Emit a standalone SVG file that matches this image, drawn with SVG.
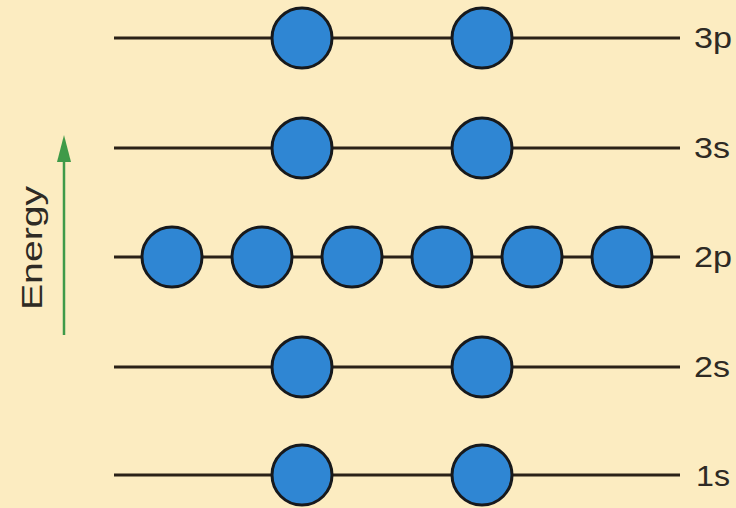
<svg xmlns="http://www.w3.org/2000/svg" width="736" height="508" viewBox="0 0 736 508">
  <defs>
    <style>
      .lvl { stroke: #2a2117; stroke-width: 3.2; fill: none; }
      .e { fill: #2f86d3; stroke: #17191c; stroke-width: 3; }
      .lbl { font-family: "Liberation Sans", Arial, sans-serif; font-size: 29px; fill: #2e2a24; }
      .axis { stroke: #3f9a48; stroke-width: 2.5; fill: none; }
    </style>
  </defs>
  <rect width="736" height="508" fill="#fcecc1"/>
  <g id="connectors">
    <line class="lvl" x1="114" y1="38" x2="680" y2="38"/>
    <line class="lvl" x1="114" y1="148" x2="680" y2="148"/>
    <line class="lvl" x1="114" y1="257" x2="680" y2="257"/>
    <line class="lvl" x1="114" y1="367" x2="680" y2="367"/>
    <line class="lvl" x1="114" y1="475" x2="680" y2="475"/>
    <path d="M64,335 L64,150" class="axis"/>
    <path d="M64,135 L57,162 L71,162 z" fill="#3f9a48"/>
  </g>
  <g id="energy-axis">
    <text class="lbl" transform="translate(42,248) rotate(-90)" text-anchor="middle" font-size="32" textLength="124" lengthAdjust="spacingAndGlyphs">Energy</text>
  </g>
  <g id="level-3p">
    <circle class="e" cx="302" cy="38" r="30"/>
    <circle class="e" cx="482" cy="38" r="30"/>
    <text class="lbl" x="694" y="48" textLength="38" lengthAdjust="spacingAndGlyphs">3p</text>
  </g>
  <g id="level-3s">
    <circle class="e" cx="302" cy="148" r="30"/>
    <circle class="e" cx="482" cy="148" r="30"/>
    <text class="lbl" x="694" y="158" textLength="36" lengthAdjust="spacingAndGlyphs">3s</text>
  </g>
  <g id="level-2p">
    <circle class="e" cx="172" cy="257" r="30"/>
    <circle class="e" cx="262" cy="257" r="30"/>
    <circle class="e" cx="352" cy="257" r="30"/>
    <circle class="e" cx="442" cy="257" r="30"/>
    <circle class="e" cx="532" cy="257" r="30"/>
    <circle class="e" cx="622" cy="257" r="30"/>
    <text class="lbl" x="694" y="267" textLength="38" lengthAdjust="spacingAndGlyphs">2p</text>
  </g>
  <g id="level-2s">
    <circle class="e" cx="302" cy="367" r="30"/>
    <circle class="e" cx="482" cy="367" r="30"/>
    <text class="lbl" x="694" y="377" textLength="36" lengthAdjust="spacingAndGlyphs">2s</text>
  </g>
  <g id="level-1s">
    <circle class="e" cx="302" cy="475" r="30"/>
    <circle class="e" cx="482" cy="475" r="30"/>
    <text class="lbl" x="696" y="486" textLength="34" lengthAdjust="spacingAndGlyphs">1s</text>
  </g>
</svg>
